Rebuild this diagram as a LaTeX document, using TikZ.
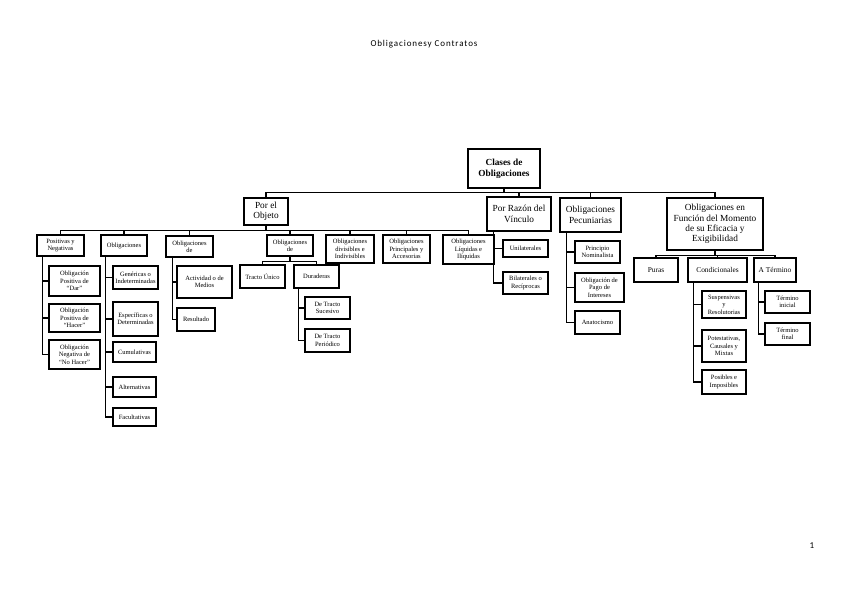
\documentclass[tikz,border=0pt]{standalone}
\usepackage{fontspec}
\setmainfont{Liberation Serif}
\newfontfamily\hdr[LetterSpace=10]{Carlito}
\newfontfamily\pgnum{Carlito}
\usetikzlibrary{calc}
\tikzset{
  bx/.style={draw, line width=1.1pt, inner sep=0pt, align=center, font=\fontsize{6.5}{7.4}\selectfont},
  bxl/.style={bx, font=\fontsize{9.3}{10.4}\selectfont},
  bxr/.style={bx, font=\bfseries\fontsize{9.3}{10.6}\selectfont},
  bxm/.style={bx, font=\fontsize{7.4}{8}\selectfont},
  ln/.style={line width=1.1pt}
}
\newcommand\mybox[7][bx]{\node[#1, minimum width={#5-#3}, minimum height={#6-#4}] (#2) at ({(#3+#5)/2},{(#4+#6)/2}) {#7};}
\begin{document}
\begin{tikzpicture}[x=1pt,y=-1pt]
\useasboundingbox (0,0) rectangle (848,599);
\node (hdr) at (424,44) {\hdr\fontsize{9}{10}\selectfont Obligacionesy Contratos};
\node (pg) at (812,546) {\pgnum\fontsize{9}{10}\selectfont 1};
% root and level 1
\mybox[bxr]{root}{468}{149}{540}{188}{Clases de\\Obligaciones}
\mybox[bxl]{objeto}{244}{198}{288}{225}{Por el\\Objeto}
\mybox[bxl]{vinculo}{487}{197}{551}{231}{Por Razón del\\Vínculo}
\mybox[bxl]{pecun}{560}{198}{621}{232}{Obligaciones\\Pecuniarias}
\mybox[bxl]{funcion}{667}{198}{763}{250}{Obligaciones en\\Función del Momento\\de su Eficacia y\\Exigibilidad}
% level 2 under objeto
\mybox{posneg}{37}{235}{84}{256}{Positivas y\\Negativas}
\mybox{oblig}{101}{235}{147}{256}{Obligaciones}
\mybox{oblde1}{166}{236}{213}{257}{Obligaciones\\de}
\mybox{oblde2}{267}{235}{313}{256}{Obligaciones\\de}
\mybox{divis}{326}{235}{374}{263}{Obligaciones\\divisibles e\\Indivisibles}
\mybox{princ}{383}{235}{430}{263}{Obligaciones\\Principales y\\Accesorias}
\mybox{liquid}{443}{235}{494}{264}{Obligaciones\\Líquidas e\\Ilíquidas}
% positivas children
\mybox{dar}{49}{266}{100}{296}{Obligación\\Positiva de\\“Dar”}
\mybox{hacer}{49}{304}{100}{332}{Obligación\\Positiva de\\“Hacer”}
\mybox{nohacer}{49}{340}{100}{369}{Obligación\\Negativa de\\“No Hacer”}
% obligaciones children
\mybox{gen}{113}{266}{158}{289}{Genéricas o\\Indeterminadas}
\mybox{esp}{113}{302}{158}{336}{Específicas o\\Determinadas}
\mybox{cum}{113}{342}{156}{362}{Cumulativas}
\mybox{alt}{113}{377}{156}{397}{Alternativas}
\mybox{fac}{113}{408}{156}{426}{Facultativas}
% oblde1 children
\mybox{act}{177}{266}{232}{298}{Actividad o de\\Medios}
\mybox{res}{177}{308}{215}{331}{Resultado}
% oblde2 children
\mybox{unico}{240}{265}{285}{288}{Tracto Único}
\mybox{dura}{294}{265}{339}{288}{Duraderas}
\mybox{suc}{305}{297}{350}{319}{De Tracto\\Sucesivo}
\mybox{per}{305}{329}{350}{352}{De Tracto\\Periódico}
% vinculo children
\mybox{uni}{503}{240}{548}{257}{Unilaterales}
\mybox{bil}{503}{272}{548}{294}{Bilaterales o\\Recíprocas}
% pecuniarias children
\mybox{nom}{575}{241}{620}{263}{Principio\\Nominalista}
\mybox{pago}{575}{273}{624}{302}{Obligación de\\Pago de\\Intereses}
\mybox{ana}{575}{311}{620}{334}{Anatocismo}
% funcion children
\mybox[bxm]{puras}{634}{258}{678}{282}{Puras}
\mybox[bxm]{cond}{688}{258}{747}{282}{Condicionales}
\mybox[bxm]{term}{754}{258}{796}{282}{A Término}
\mybox{susp}{702}{291}{746}{318}{Suspensivas\\y\\Resolutorias}
\mybox{pot}{702}{330}{746}{362}{Potestativas,\\Causales y\\Mixtas}
\mybox{pos}{702}{370}{746}{394}{Posibles e\\Imposibles}
\mybox{ini}{765}{291}{810}{313}{Término\\inicial}
\mybox{fin}{765}{323}{810}{345}{Término\\final}
% connectors: root bus
\foreach \c in {objeto,vinculo,pecun,funcion}
  \draw[ln] (root.south) -- ++(0,4) -| (\c.north);
% objeto bus
\foreach \c in {posneg,oblig,oblde1,oblde2,divis,princ,liquid}
  \draw[ln] (objeto.south) -- ++(0,5) -| (\c.north);
% oblde2 bus
\foreach \c in {unico,dura}
  \draw[ln] (oblde2.south) -- ++(0,5) -| (\c.north);
% funcion bus
\foreach \c in {puras,cond,term}
  \draw[ln] (funcion.south) -- ++(0,5) -| (\c.north);
% vertical trees
\foreach \c in {dar,hacer,nohacer}
  \draw[ln] ($(posneg.south west)+(6,0)$) |- (\c.west);
\foreach \c in {gen,esp,cum,alt,fac}
  \draw[ln] ($(oblig.south west)+(5,0)$) |- (\c.west);
\foreach \c in {act,res}
  \draw[ln] ($(oblde1.south west)+(7,0)$) |- (\c.west);
\foreach \c in {suc,per}
  \draw[ln] ($(dura.south west)+(5,0)$) |- (\c.west);
\foreach \c in {uni,bil}
  \draw[ln] ($(vinculo.south west)+(7,0)$) |- (\c.west);
\foreach \c in {nom,pago,ana}
  \draw[ln] ($(pecun.south west)+(7,0)$) |- (\c.west);
\foreach \c in {susp,pot,pos}
  \draw[ln] ($(cond.south west)+(6,0)$) |- (\c.west);
\foreach \c in {ini,fin}
  \draw[ln] ($(term.south west)+(5,0)$) |- (\c.west);
\end{tikzpicture}
\end{document}
